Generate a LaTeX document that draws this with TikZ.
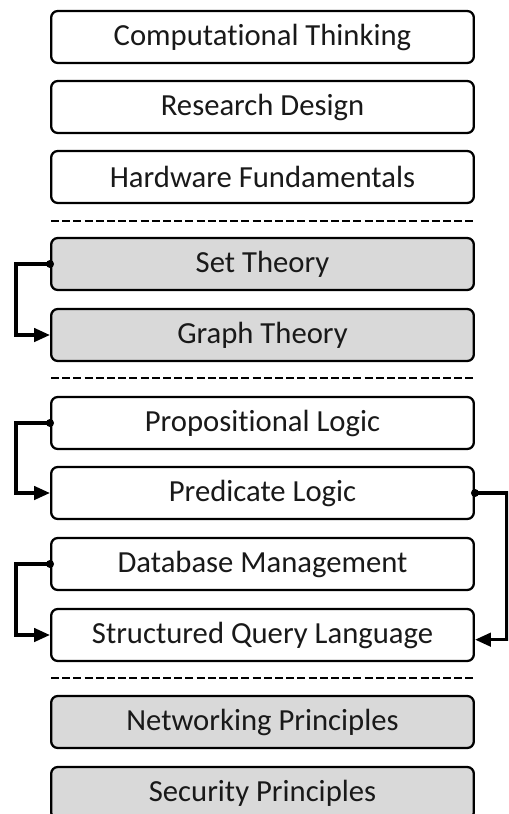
\documentclass[tikz,border=0pt]{standalone}
\usepackage{fontspec}
\setmainfont{Carlito}[Ligatures=NoCommon]
\usetikzlibrary{arrows.meta}
\begin{document}
\begin{tikzpicture}[x=0.75pt,y=-0.75pt,
  box/.style={draw=black,line width=1.7pt,rounded corners=5pt,
    minimum width=317pt,minimum height=39pt,inner sep=0pt,
    font=\fontsize{23}{26}\selectfont,text=black!90},
  plain/.style={box,fill=white},
  grey/.style={box,fill=black!15},
  sep/.style={line width=2.2pt,dash pattern=on 6pt off 2.4pt},
  conn/.style={line width=2.6pt,-{Triangle[length=12pt,width=10pt]}},
  dot/.style={fill=black}]
\useasboundingbox (0,0) rectangle (508,814);
\clip (0,0) rectangle (508,814);
\node[plain] (ct) at (262.5,37) {Computational Thinking};
\node[plain] (rd) at (262.5,107) {Research Design};
\node[plain] (hf) at (262.5,177) {Hardware Fundamentals};
\coordinate (d1a) at (51,221); \coordinate (d1b) at (474,221);
\draw[sep] (d1a) -- (d1b);
\node[grey] (st) at (262.5,264) {Set Theory};
\node[grey] (gt) at (262.5,335) {Graph Theory};
\coordinate (d2a) at (51,378); \coordinate (d2b) at (474,378);
\draw[sep] (d2a) -- (d2b);
\node[plain] (pl) at (262.5,423) {Propositional Logic};
\node[plain] (prl) at (262.5,493) {Predicate Logic};
\node[plain] (dm) at (262.5,564) {Database Management};
\node[plain] (sql) at (262.5,635) {Structured Query Language};
\coordinate (d3a) at (51,678); \coordinate (d3b) at (474,678);
\draw[sep] (d3a) -- (d3b);
\node[grey] (np) at (262.5,722) {Networking Principles};
\node[grey] (sp) at (262.5,793) {Security Principles};
% connectors
\draw[conn] (st.west) -- ++(-34,0) |- (gt.west);
\fill[dot] (st.west) circle[radius=3pt];
\draw[conn] (pl.west) -- ++(-34,0) |- (prl.west);
\fill[dot] (pl.west) circle[radius=3pt];
\draw[conn] (dm.west) -- ++(-34,0) |- (sql.west);
\fill[dot] (dm.west) circle[radius=3pt];
\draw[conn] (prl.east) -- ++(32,0) |- ([yshift=-3.5pt]sql.east);
\fill[dot] (prl.east) circle[radius=3pt];
\end{tikzpicture}
\end{document}
